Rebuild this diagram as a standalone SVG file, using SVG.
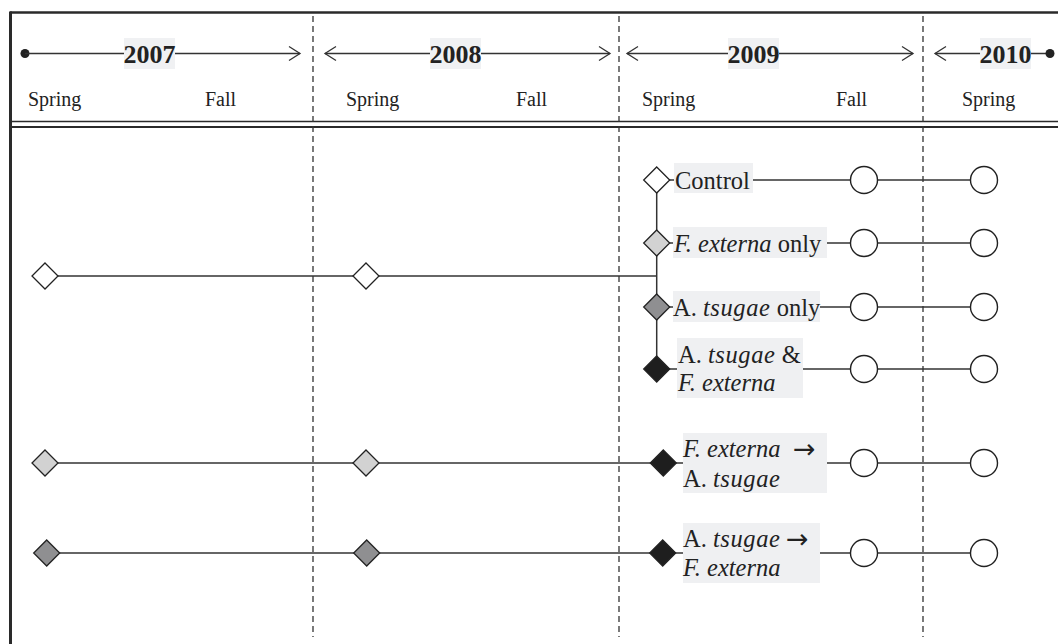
<svg xmlns="http://www.w3.org/2000/svg" width="1058" height="644" viewBox="0 0 1058 644">
<style>
.frame{stroke:#2a2a2a;fill:none}
.dash{stroke:#333;stroke-width:1.3;stroke-dasharray:6 4;fill:none}
.tl{stroke:#333;stroke-width:1.3;fill:none}
.ah{stroke:#333;stroke-width:1.3;fill:none}
.season{font-family:"Liberation Serif",serif;font-size:20px;fill:#222}
.year{font-family:"Liberation Serif",serif;font-size:26px;font-weight:bold;fill:#222}
.ybg{fill:#f0f1f3}
.lbg{fill:#eff0f2}
.lbl{font-family:"Liberation Serif",serif;font-size:24.5px;fill:#222}
.it{font-style:italic}
.sp{letter-spacing:0.6px}
.arr{font-family:"DejaVu Sans",sans-serif;font-size:27px}
.conn{stroke:#333;stroke-width:1.5;fill:none}
.dm{stroke:#222;stroke-width:1.3}
.d0{fill:#ffffff}
.d1{fill:#d2d2d2}
.d2{fill:#8f8f91}
.d3{fill:#1e1e1e}
.circ{fill:#ffffff;stroke:#222;stroke-width:1.4}
</style>
<defs>
<polygon id="dia" points="0,-13 13,0 0,13 -13,0"/>
</defs>
<rect width="1058" height="644" fill="#ffffff"/>

<g id="frame">
<line class="frame" x1="10" y1="12.5" x2="1058" y2="12.5" stroke-width="2.5"/>
<line class="frame" x1="10.5" y1="11.5" x2="10.5" y2="644" stroke-width="3"/>
<line class="frame" x1="10" y1="121.5" x2="1058" y2="121.5" stroke-width="1.3"/>
<line class="frame" x1="10" y1="127" x2="1058" y2="127" stroke-width="2.2"/>
</g>

<g id="dividers">
<line class="dash" x1="313" y1="16" x2="313" y2="637"/>
<line class="dash" x1="619" y1="16" x2="619" y2="637"/>
<line class="dash" x1="923" y1="16" x2="923" y2="637"/>
</g>

<g id="timeline">
<circle cx="25" cy="53.5" r="4.5" fill="#222"/>
<line class="tl" x1="25" y1="53.5" x2="300" y2="53.5"/>
<polyline class="ah" points="289,46.5 300,53.5 289,60.5"/>
<line class="tl" x1="325" y1="53.5" x2="610" y2="53.5"/>
<polyline class="ah" points="336,46.5 325,53.5 336,60.5"/>
<polyline class="ah" points="599,46.5 610,53.5 599,60.5"/>
<line class="tl" x1="627" y1="53.5" x2="913" y2="53.5"/>
<polyline class="ah" points="638,46.5 627,53.5 638,60.5"/>
<polyline class="ah" points="902,46.5 913,53.5 902,60.5"/>
<line class="tl" x1="935" y1="53.5" x2="1050" y2="53.5"/>
<polyline class="ah" points="946,46.5 935,53.5 946,60.5"/>
<circle cx="1050" cy="53.5" r="4.5" fill="#222"/>
<rect class="ybg" x="124" y="38" width="51" height="31"/>
<text class="year" x="149.5" y="63" text-anchor="middle">2007</text>
<rect class="ybg" x="430" y="38" width="51" height="31"/>
<text class="year" x="455.5" y="63" text-anchor="middle">2008</text>
<rect class="ybg" x="728" y="38" width="51" height="31"/>
<text class="year" x="753.5" y="63" text-anchor="middle">2009</text>
<rect class="ybg" x="980" y="38" width="51" height="31"/>
<text class="year" x="1005.5" y="63" text-anchor="middle">2010</text>
<text class="season" x="28" y="106">Spring</text>
<text class="season" x="205" y="106">Fall</text>
<text class="season" x="346" y="106">Spring</text>
<text class="season" x="516" y="106">Fall</text>
<text class="season" x="642" y="106">Spring</text>
<text class="season" x="836" y="106">Fall</text>
<text class="season" x="962" y="106">Spring</text>
</g>

<g id="connectors">
<line class="conn" x1="45" y1="276" x2="656.7" y2="276"/>
<line class="conn" x1="656.7" y1="180" x2="656.7" y2="369"/>
<line class="conn" x1="656.7" y1="180" x2="984" y2="180"/>
<line class="conn" x1="656.7" y1="243" x2="984" y2="243"/>
<line class="conn" x1="656.7" y1="307" x2="984" y2="307"/>
<line class="conn" x1="656.7" y1="369" x2="984" y2="369"/>
<line class="conn" x1="45" y1="463" x2="984" y2="463"/>
<line class="conn" x1="46.7" y1="553" x2="984" y2="553"/>
</g>

<g id="n-start-control">
<use href="#dia" class="dm d0" x="45" y="276"/>
</g>
<g id="n-2008-control">
<use href="#dia" class="dm d0" x="366" y="276"/>
</g>
<g id="n-start-fe">
<use href="#dia" class="dm d1" x="45" y="463"/>
</g>
<g id="n-2008-fe">
<use href="#dia" class="dm d1" x="366" y="463"/>
</g>
<g id="n-start-at">
<use href="#dia" class="dm d2" x="46.7" y="553"/>
</g>
<g id="n-2008-at">
<use href="#dia" class="dm d2" x="366.7" y="553"/>
</g>

<g id="n-control">
<use href="#dia" class="dm d0" x="656.7" y="180"/>
<rect class="lbg" x="674" y="163" width="79" height="30"/>
<text class="lbl" x="675" y="189">Control</text>
</g>
<g id="n-fe-only">
<use href="#dia" class="dm d1" x="656.7" y="243"/>
<rect class="lbg" x="673" y="227" width="154" height="31"/>
<text class="lbl" x="674" y="252"><tspan class="it">F. externa</tspan> only</text>
</g>
<g id="n-at-only">
<use href="#dia" class="dm d2" x="656.7" y="307"/>
<rect class="lbg" x="673" y="291" width="147" height="31"/>
<text class="lbl" x="673" y="316">A. <tspan class="it sp">tsugae</tspan> only</text>
</g>
<g id="n-at-fe">
<use href="#dia" class="dm d3" x="656.7" y="369"/>
<rect class="lbg" x="677" y="338" width="126" height="60"/>
<text class="lbl" x="678" y="363">A. <tspan class="it sp">tsugae</tspan> &amp;</text>
<text class="lbl it" x="678" y="391">F. externa</text>
</g>
<g id="n-fe-then-at">
<use href="#dia" class="dm d3" x="663.3" y="463"/>
<rect class="lbg" x="683" y="433" width="144" height="60"/>
<text class="lbl" x="683" y="457"><tspan class="it">F. externa</tspan></text>
<text class="lbl arr" x="793" y="458">→</text>
<text class="lbl" x="683" y="487">A. <tspan class="it sp">tsugae</tspan></text>
</g>
<g id="n-at-then-fe">
<use href="#dia" class="dm d3" x="662.7" y="553"/>
<rect class="lbg" x="683" y="523" width="137" height="60"/>
<text class="lbl" x="683" y="547">A. <tspan class="it sp">tsugae</tspan></text>
<text class="lbl arr" x="786" y="548">→</text>
<text class="lbl it" x="683" y="576">F. externa</text>
</g>

<g id="n-circles">
<circle class="circ" cx="864" cy="180" r="13.5"/>
<circle class="circ" cx="984" cy="180" r="13.5"/>
<circle class="circ" cx="864" cy="243" r="13.5"/>
<circle class="circ" cx="984" cy="243" r="13.5"/>
<circle class="circ" cx="864" cy="307" r="13.5"/>
<circle class="circ" cx="984" cy="307" r="13.5"/>
<circle class="circ" cx="864" cy="369" r="13.5"/>
<circle class="circ" cx="984" cy="369" r="13.5"/>
<circle class="circ" cx="864" cy="463" r="13.5"/>
<circle class="circ" cx="984" cy="463" r="13.5"/>
<circle class="circ" cx="864" cy="553" r="13.5"/>
<circle class="circ" cx="984" cy="553" r="13.5"/>
</g>
</svg>
